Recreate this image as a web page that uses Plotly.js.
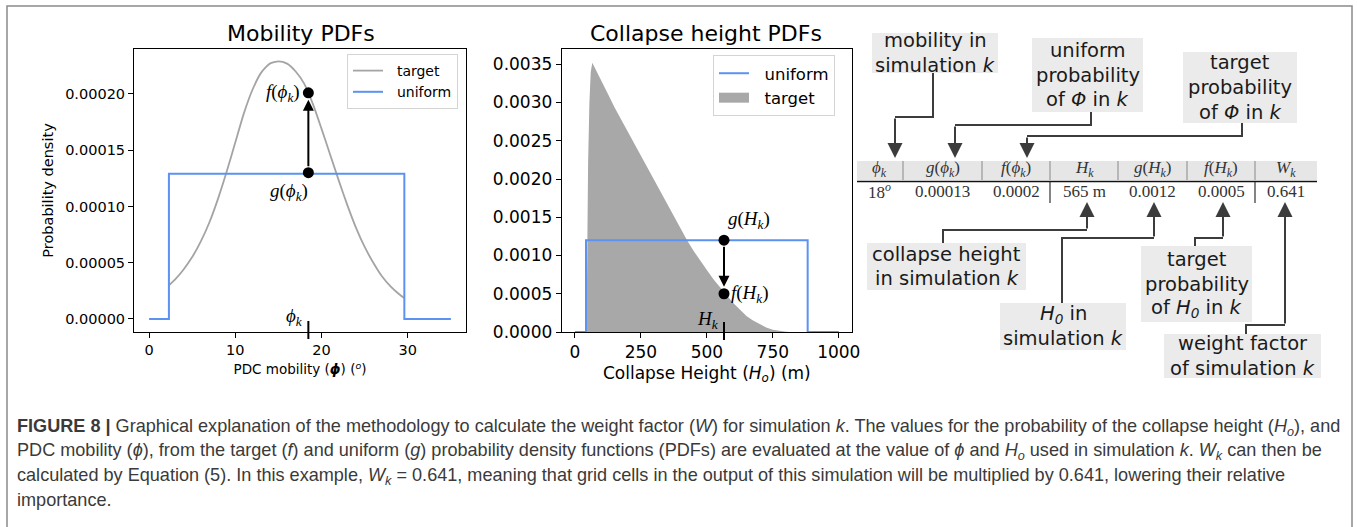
<!DOCTYPE html>
<html>
<head>
<meta charset="utf-8">
<script src="https://cdn.plot.ly/plotly-3.0.1.min.js"></script>
<style>html,body{margin:0;padding:0;background:#fff;}#chart{width:1357px;height:527px;}</style>
</head>
<body>
<div id="chart"></div>
<script>
// ---------- Panel 1: Mobility PDFs ----------
const phiX      = [2.3, 3, 4, 5, 6, 7, 8, 9, 10, 11, 12, 13, 14, 15, 16, 17, 18, 19, 20, 21, 22, 23, 24, 25, 26, 27, 28, 29, 29.6];
const targetPhi = [3.0e-5, 3.5e-5, 4.4e-5, 5.5e-5, 6.9e-5, 8.6e-5, 10.7e-5, 13.1e-5, 15.7e-5, 18.3e-5, 20.4e-5, 21.9e-5, 22.7e-5, 22.9e-5, 22.7e-5, 22.0e-5, 20.9e-5, 19.1e-5, 16.9e-5, 14.6e-5, 12.3e-5, 10.1e-5, 8.1e-5, 6.4e-5, 5.0e-5, 3.8e-5, 2.9e-5, 2.2e-5, 1.85e-5];
const uniformPhiX = [0, 2.3, 2.3, 29.6, 29.6, 35];
const uniformPhiY = [0, 0, 0.000129, 0.000129, 0, 0];
const phiK = 18.47, fPhiK = 0.000201, gPhiK = 0.00013;
const phiTicks = [0, 10, 20, 30];

// ---------- Panel 2: Collapse height PDFs ----------
const hX      = [44, 46, 50, 55, 60, 66, 72, 80, 90, 110, 130, 150, 175, 200, 225, 250, 275, 300, 325, 350, 375, 400, 425, 450, 475, 500, 525, 550, 575, 600, 625, 650, 675, 700, 725, 750, 775, 800, 815];
const targetH = [0, 0.0010, 0.0022, 0.0030, 0.0034, 0.00352, 0.00348, 0.00343, 0.00336, 0.00322, 0.00308, 0.00294, 0.00278, 0.00263, 0.00247, 0.00231, 0.00215, 0.00199, 0.00184, 0.00168, 0.00152, 0.00136, 0.00120, 0.00106, 0.00093, 0.00081, 0.00069, 0.00058, 0.00048, 0.00038, 0.00029, 0.00021, 0.00015, 0.00010, 0.00006, 0.00003, 0.000012, 0.000003, 0];
const uniformHX = [0, 42, 42, 882, 882, 1000];
const uniformHY = [0, 0, 0.0012, 0.0012, 0, 0];
const hK = 565, gHK = 0.0012, fHK = 0.0005;
const hTicks = [0, 250, 500, 750, 1000];

// ---------- Panel 3: table ----------
const tableHeaders = ['<i>ϕ<sub>k</sub></i>', '<i>g</i>(<i>ϕ<sub>k</sub></i>)', '<i>f</i>(<i>ϕ<sub>k</sub></i>)', '<i>H<sub>k</sub></i>', '<i>g</i>(<i>H<sub>k</sub></i>)', '<i>f</i>(<i>H<sub>k</sub></i>)', '<i>W<sub>k</sub></i>'];
const tableValues  = ['18<sup><i>o</i></sup>', '0.00013', '0.0002', '565 m', '0.0012', '0.0005', '0.641'];
const boxTexts = [
  ['mobility in', 'simulation <i>k</i>'],
  ['uniform', 'probability', 'of <i>Φ</i> in <i>k</i>'],
  ['target', 'probability', 'of <i>Φ</i> in <i>k</i>'],
  ['collapse height', 'in simulation <i>k</i>'],
  ['<i>H<sub>0</sub></i> in', 'simulation <i>k</i>'],
  ['target', 'probability', 'of <i>H<sub>0</sub></i> in <i>k</i>'],
  ['weight factor', 'of simulation <i>k</i>']
];
const captionLines = [
  '<b>FIGURE 8 |</b> Graphical explanation of the methodology to calculate the weight factor (<i>W</i>) for simulation <i>k</i>. The values for the probability of the collapse height (<i>H<sub>o</sub></i>), and',
  'PDC mobility (<i>ϕ</i>), from the target (<i>f</i>) and uniform (<i>g</i>) probability density functions (PDFs) are evaluated at the value of <i>ϕ</i> and <i>H<sub>o</sub></i> used in simulation <i>k</i>. <i>W<sub>k</sub></i> can then be',
  'calculated by Equation (5). In this example, <i>W<sub>k</sub></i> = 0.641, meaning that grid cells in the output of this simulation will be multiplied by 0.641, lowering their relative',
  'importance.'
];

// ---------- layout helpers (pixel -> paper) ----------
const W = 1357, H = 527;
const px = v => v / W;
const py = v => 1 - v / H;

const BLUE = '#5c92f2', GREY = '#a4a4a4', FILL = '#a8a8a8';
const SERIF = 'Liberation Serif, DejaVu Serif, serif';
const SANS = 'DejaVu Sans, sans-serif';
const NB = '\u00a0\u00a0';

const traces = [
  {x: phiX, y: targetPhi, type: 'scatter', mode: 'lines', name: NB + 'target', line: {color: GREY, width: 1.8, shape: 'spline', smoothing: 0.6}, xaxis: 'x', yaxis: 'y', legend: 'legend'},
  {x: uniformPhiX, y: uniformPhiY, type: 'scatter', mode: 'lines', name: NB + 'uniform', line: {color: BLUE, width: 2}, xaxis: 'x', yaxis: 'y', legend: 'legend'},
  {x: [phiK, phiK], y: [fPhiK, gPhiK], type: 'scatter', mode: 'markers', marker: {color: '#000', size: 11}, showlegend: false, xaxis: 'x', yaxis: 'y'},
  {x: hX, y: targetH, type: 'scatter', mode: 'lines', name: 'target', fill: 'tozeroy', fillcolor: FILL, line: {color: FILL, width: 0}, xaxis: 'x2', yaxis: 'y2', legend: 'legend2', legendgroup: 'tH', showlegend: false},
  {x: [null], y: [null], type: 'scatter', mode: 'lines', name: NB + 'target', line: {color: FILL, width: 12}, xaxis: 'x2', yaxis: 'y2', legend: 'legend2', legendgroup: 'tH'},
  {x: uniformHX, y: uniformHY, type: 'scatter', mode: 'lines', name: NB + 'uniform', line: {color: BLUE, width: 2}, xaxis: 'x2', yaxis: 'y2', legend: 'legend2'},
  {x: [hK, hK], y: [gHK, fHK], type: 'scatter', mode: 'markers', marker: {color: '#000', size: 11}, showlegend: false, xaxis: 'x2', yaxis: 'y2'}
];

const axBase = {showline: true, mirror: true, linecolor: '#000', linewidth: 1, ticks: 'outside', ticklen: 5, tickwidth: 1, tickcolor: '#000', showgrid: false, zeroline: false, fixedrange: true};

const shapes = [];
const ann = [];
const txt = (text, x, y, font, extra) => Object.assign({text: text, xref: 'paper', yref: 'paper', x: px(x), y: py(y), xanchor: 'center', yanchor: 'middle', showarrow: false, font: font}, extra || {});

// outer frame
shapes.push({type: 'rect', xref: 'paper', yref: 'paper', x0: px(7), x1: px(1352), y0: py(6), y1: py(600), line: {color: '#8a8a8a', width: 1.5}});

// subplot titles
ann.push(txt('Mobility PDFs', 301, 33, {size: 22, color: '#000', family: SANS}));
ann.push(txt('Collapse height PDFs', 706, 33, {size: 22, color: '#000', family: SANS}));

// panel 1 arrow + labels + tick
ann.push({x: phiK, y: fPhiK, ax: phiK, ay: gPhiK, xref: 'x', yref: 'y', axref: 'x', ayref: 'y', text: '', showarrow: true, arrowhead: 2, arrowsize: 1.1, arrowwidth: 2, arrowcolor: '#000', standoff: 7, startstandoff: 5});
ann.push({x: phiK, y: fPhiK, xref: 'x', yref: 'y', text: '<i>f</i>(<i>ϕ<sub>k</sub></i>)', showarrow: false, xanchor: 'right', yanchor: 'middle', xshift: -6, font: {family: SERIF, size: 19, color: '#000'}});
ann.push({x: phiK, y: gPhiK, xref: 'x', yref: 'y', text: '<i>g</i>(<i>ϕ<sub>k</sub></i>)', showarrow: false, xanchor: 'right', yanchor: 'middle', xshift: 2, yshift: -19, font: {family: SERIF, size: 19, color: '#000'}});
ann.push({x: phiK, y: 0, xref: 'x', yref: 'y', text: '<i>ϕ<sub>k</sub></i>', showarrow: false, xanchor: 'right', yanchor: 'middle', xshift: -3, yshift: 2, font: {family: SERIF, size: 19, color: '#000'}});
shapes.push({type: 'line', xref: 'x', yref: 'paper', x0: phiK, x1: phiK, y0: py(321), y1: py(339), line: {color: '#000', width: 2}});

// panel 2 arrow + labels + tick
ann.push({x: hK, y: fHK, ax: hK, ay: gHK, xref: 'x2', yref: 'y2', axref: 'x2', ayref: 'y2', text: '', showarrow: true, arrowhead: 2, arrowsize: 1.1, arrowwidth: 2, arrowcolor: '#000', standoff: 7, startstandoff: 5});
ann.push({x: hK, y: gHK, xref: 'x2', yref: 'y2', text: '<i>g</i>(<i>H<sub>k</sub></i>)', showarrow: false, xanchor: 'left', yanchor: 'middle', xshift: 2, yshift: 20, font: {family: SERIF, size: 19, color: '#000'}});
ann.push({x: hK, y: fHK, xref: 'x2', yref: 'y2', text: '<i>f</i>(<i>H<sub>k</sub></i>)', showarrow: false, xanchor: 'left', yanchor: 'middle', xshift: 5, font: {family: SERIF, size: 19, color: '#000'}});
ann.push({x: hK, y: 0, xref: 'x2', yref: 'y2', text: '<i>H<sub>k</sub></i>', showarrow: false, xanchor: 'right', yanchor: 'middle', xshift: -3, yshift: 12, font: {family: SERIF, size: 19, color: '#000'}});
shapes.push({type: 'line', xref: 'x2', yref: 'paper', x0: hK, x1: hK, y0: py(322), y1: py(340), line: {color: '#000', width: 2}});

// ---------- table ----------
const colEdges = [857, 903, 982, 1050, 1118, 1187, 1255, 1317];
const headY = 169, rowY = 191;
shapes.push({type: 'rect', xref: 'paper', yref: 'paper', x0: px(colEdges[0]), x1: px(colEdges[7]), y0: py(161), y1: py(180), fillcolor: '#e6e6e6', line: {width: 0}, layer: 'below'});
shapes.push({type: 'line', xref: 'paper', yref: 'paper', x0: px(colEdges[0]), x1: px(colEdges[7]), y0: py(181.5), y1: py(181.5), line: {color: '#111', width: 1.5}});
for (let i = 1; i < 7; i++) {
  shapes.push({type: 'line', xref: 'paper', yref: 'paper', x0: px(colEdges[i]), x1: px(colEdges[i]), y0: py(161), y1: py(180), line: {color: '#888', width: 1}});
}
[3, 6].forEach(i => shapes.push({type: 'line', xref: 'paper', yref: 'paper', x0: px(colEdges[i]), x1: px(colEdges[i]), y0: py(182), y1: py(203), line: {color: '#333', width: 1.2}}));
for (let i = 0; i < 7; i++) {
  const cx = (colEdges[i] + colEdges[i + 1]) / 2;
  ann.push(txt(tableHeaders[i], cx, headY, {family: SERIF, size: 17, color: '#333'}));
  ann.push(txt(tableValues[i], cx, rowY, {family: SERIF, size: 17, color: '#333'}));
}

// ---------- boxes with leader arrows ----------
const boxes = [
  {x0: 872, x1: 998, y0: 33, y1: 73, path: [[933, 73], [933, 117], [895, 117]], tip: [895, 158]},
  {x0: 1032, x1: 1143, y0: 38, y1: 112, path: [[1091, 112], [1091, 125], [955, 125]], tip: [955, 158]},
  {x0: 1183, x1: 1297, y0: 52, y1: 123, path: [[1242, 123], [1242, 136], [1027, 136]], tip: [1027, 158]},
  {x0: 867, x1: 1026, y0: 243, y1: 290, path: [[943, 243], [943, 230], [1087, 230]], tip: [1087, 202]},
  {x0: 1000, x1: 1126, y0: 303, y1: 350, path: [[1062, 303], [1062, 238], [1154, 238]], tip: [1154, 202]},
  {x0: 1141, x1: 1252, y0: 246, y1: 322, path: [[1195, 246], [1195, 238], [1223, 238]], tip: [1223, 202]},
  {x0: 1164, x1: 1321, y0: 334, y1: 378, path: [[1246, 334], [1246, 325], [1285, 325]], tip: [1285, 202]}
];
const LINEC = '#3c3c3c';
boxes.forEach((b, i) => {
  shapes.push({type: 'rect', xref: 'paper', yref: 'paper', x0: px(b.x0), x1: px(b.x1), y0: py(b.y0), y1: py(b.y1), fillcolor: '#ebebeb', line: {width: 0}, layer: 'below'});
  const d = 'M' + b.path.map(p => px(p[0]) + ',' + py(p[1])).join(' L');
  shapes.push({type: 'path', xref: 'paper', yref: 'paper', path: d, line: {color: LINEC, width: 2}});
  const last = b.path[b.path.length - 1];
  ann.push({xref: 'paper', yref: 'paper', x: px(b.tip[0]), y: py(b.tip[1]), ax: 0, ay: last[1] - b.tip[1], text: '', showarrow: true, arrowhead: 2, arrowsize: 1.5, arrowwidth: 2, arrowcolor: LINEC});
  const lines = boxTexts[i];
  const cy = (b.y0 + b.y1) / 2, sp = 24.5;
  lines.forEach((t, j) => {
    const y = cy + (j - (lines.length - 1) / 2) * sp;
    ann.push(txt(t, (b.x0 + b.x1) / 2, y, {family: SANS, size: 19.5, color: '#1a1a1a'}));
  });
});

// ---------- caption ----------
const capY = [427, 451, 476, 500];
captionLines.forEach((t, i) => {
  ann.push(txt(t, 15, capY[i], {family: 'Liberation Sans, Arial, sans-serif', size: 18.1, color: '#3a3a3a'}, {xanchor: 'left'}));
});

const layout = {
  width: W, height: H,
  margin: {l: 0, r: 0, t: 0, b: 0},
  paper_bgcolor: '#fff', plot_bgcolor: '#fff',
  font: {family: SANS, color: '#000'},
  showlegend: true,
  xaxis: Object.assign({}, axBase, {domain: [px(134), px(466)], range: [-1.75, 36.75], tickvals: phiTicks, anchor: 'y', tickfont: {size: 14.5}, title: {text: 'PDC mobility (<i><b>ϕ</b></i>) (<sup><i>o</i></sup>)', font: {size: 13.5}, standoff: 7}}),
  yaxis: Object.assign({}, axBase, {domain: [py(332), py(49)], range: [-0.0000116, 0.00024], dtick: 0.00005, tick0: 0, tickformat: '.5f', anchor: 'x', tickfont: {size: 14.5}, title: {text: 'Probability density', font: {size: 14.5}, standoff: 8}}),
  xaxis2: Object.assign({}, axBase, {domain: [px(561.7), px(852)], range: [-50, 1050], tickvals: hTicks, anchor: 'y2', tickfont: {size: 17}, title: {text: 'Collapse Height (<i>H<sub>o</sub></i>) (m)', font: {size: 17}, standoff: 5}}),
  yaxis2: Object.assign({}, axBase, {domain: [py(332), py(49)], range: [0, 0.0037], dtick: 0.0005, tick0: 0, tickformat: '.4f', anchor: 'x2', tickfont: {size: 17}}),
  legend: {x: px(347), y: py(54), xanchor: 'left', yanchor: 'top', bgcolor: '#fff', bordercolor: '#d4d4d4', borderwidth: 1, font: {size: 14, family: SANS}, itemwidth: 30, tracegroupgap: 0},
  legend2: {x: px(713), y: py(55), xanchor: 'left', yanchor: 'top', bgcolor: '#fff', bordercolor: '#d4d4d4', borderwidth: 1, font: {size: 16.5, family: SANS}, itemwidth: 30, traceorder: 'reversed', tracegroupgap: 0},
  shapes: shapes,
  annotations: ann
};

Plotly.newPlot('chart', traces, layout, {displayModeBar: false, staticPlot: true});
</script>
</body>
</html>
